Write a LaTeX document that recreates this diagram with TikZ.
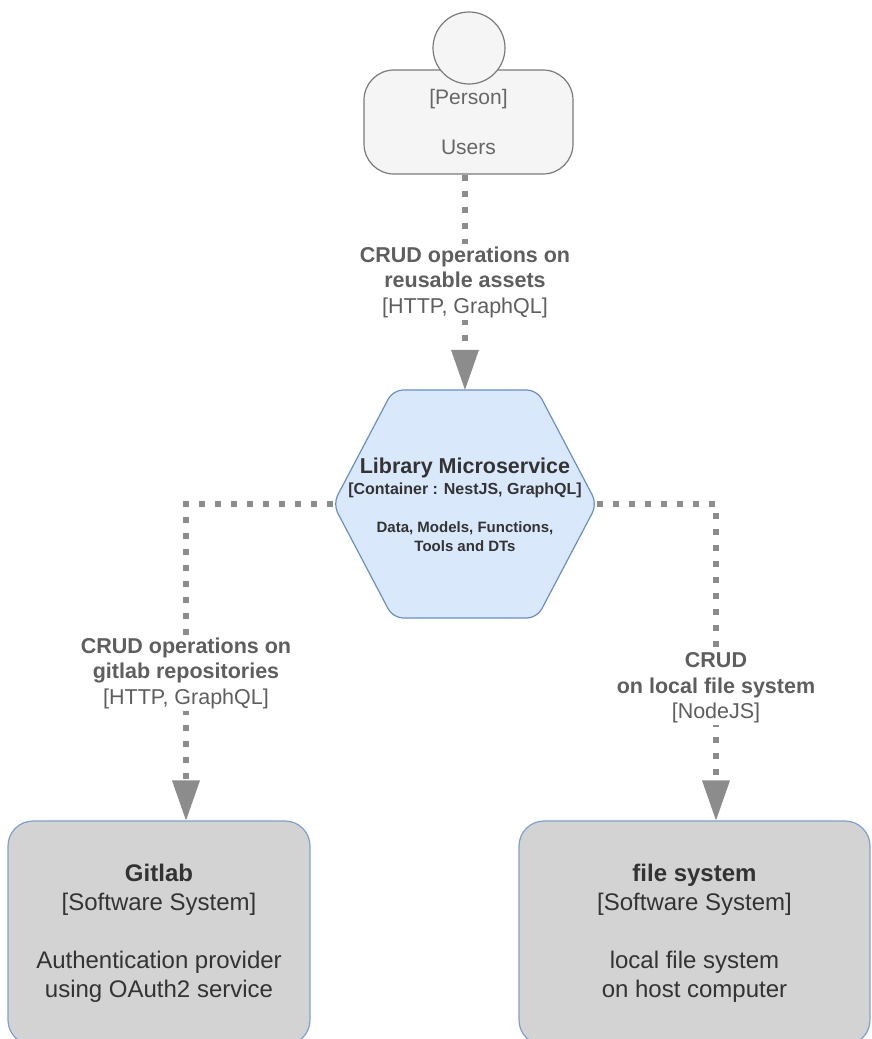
\documentclass[tikz,border=0pt]{standalone}
\usepackage{fontspec}
\setmainfont{Liberation Sans}
\usetikzlibrary{arrows.meta}
\definecolor{edgegray}{HTML}{8C8C8C}
\definecolor{labelgray}{HTML}{5E5E5E}
\definecolor{persontext}{HTML}{666666}
\definecolor{personfill}{HTML}{F5F5F5}
\definecolor{personline}{HTML}{7A7A7A}
\definecolor{hexfill}{HTML}{DAE8FC}
\definecolor{hexline}{HTML}{6C8EBF}
\definecolor{boxfill}{HTML}{D3D3D3}
\definecolor{boxline}{HTML}{7EA0CC}
\definecolor{darktext}{HTML}{333333}
\tikzset{
  personbody/.style={draw=personline, fill=personfill, line width=1.2pt, rounded corners=30pt,
    minimum width=209pt, minimum height=104pt, inner sep=0pt, align=center,
    text=persontext, font=\fontsize{21}{25}\selectfont},
  personhead/.style={circle, draw=personline, fill=personfill, line width=1.2pt, minimum size=72pt, inner sep=0pt},
  hexshape/.style={draw=hexline, fill=hexfill, line width=1.2pt, rounded corners=10pt},
  hextext/.style={align=center, text=darktext, inner sep=0pt, font=\bfseries\fontsize{15}{19}\selectfont},
  sysbox/.style={draw=boxline, fill=boxfill, line width=1.2pt, rounded corners=25pt,
    minimum height=224pt, inner sep=0pt, align=center, text=darktext,
    font=\fontsize{24}{29}\selectfont},
  conn/.style={draw=edgegray, line width=6pt, dash pattern=on 6pt off 10pt,
    -{Triangle[width=28pt,length=40pt,line width=0pt,fill=edgegray]}},
  elabel/.style={fill=white, inner sep=2pt, align=center, text=labelgray,
    font=\fontsize{21.5}{25.5}\selectfont},
}
\begin{document}
\begin{tikzpicture}[x=1pt,y=-1pt]
\useasboundingbox (0,0) rectangle (871,1039);
\clip (0,0) rectangle (871,1039);

% person
\node[personbody] (users) at (468.5,122) {[Person]\\[25pt]Users};
\node[personhead] (head) at (469,48) {};

% library microservice hexagon
\node[minimum width=264pt, minimum height=228pt, inner sep=0pt] (lib) at (465,504) {};
\draw[hexshape] (465,390) -- (537,390) -- (597,504) -- (537,618) -- (393,618) -- (333,504) -- (393,390) -- cycle;
\node[hextext] (libtext) at (465,505) {{\fontsize{21.5}{22}\selectfont Library Microservice}\\[1.3pt]{\fontsize{16}{19}\selectfont [Container : NestJS, GraphQL]}\\[19.6pt]Data, Models, Functions,\\Tools and DTs};

% software systems
\node[sysbox, minimum width=302pt] (gitlab) at (159,933) {\textbf{Gitlab}\\{[Software System]}\\[29pt]Authentication provider\\using OAuth2 service};
\node[sysbox, minimum width=351pt] (fs) at (694.5,933) {\textbf{file system}\\{[Software System]}\\[29pt]local file system\\on host computer};

% connectors
\coordinate (lc) at (186,504);
\coordinate (rc) at (716,504);
\draw[conn] (lib.north |- users.south) -- (lib.north);
\draw[conn] (lib.west) -- (lc) -- (lc |- gitlab.north);
\draw[conn] (lib.east) -- (rc) -- (rc |- fs.north);

% connector labels
\node[elabel] (l1) at (465,282) {\textbf{CRUD operations on}\\\textbf{reusable assets}\\{[HTTP, GraphQL]}};
\node[elabel] (l2) at (186,673) {\textbf{CRUD operations on}\\\textbf{gitlab repositories}\\{[HTTP, GraphQL]}};
\node[elabel] (l3) at (716,688) {\textbf{CRUD}\\\textbf{on local file system}\\{[NodeJS]}};
\end{tikzpicture}
\end{document}
